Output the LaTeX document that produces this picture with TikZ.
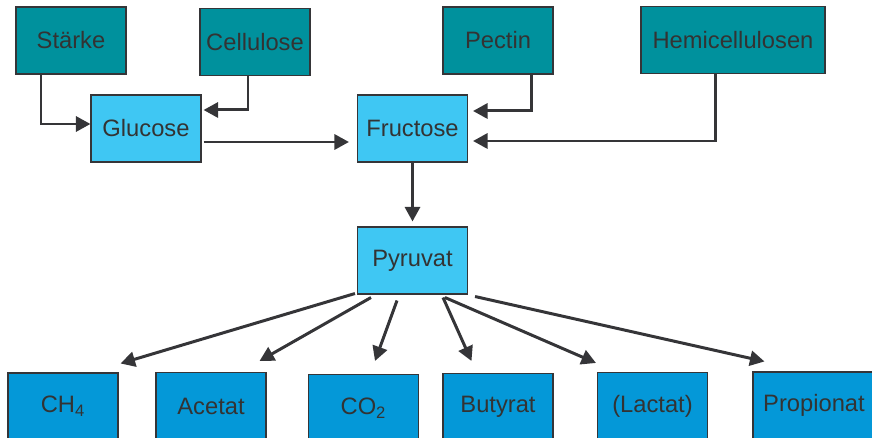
\documentclass[tikz,border=0pt]{standalone}
\usepackage{fontspec}
\setmainfont{Liberation Sans}
\usepackage{tikz}
\usetikzlibrary{arrows.meta}
\usetikzlibrary{calc}
\definecolor{teal0}{HTML}{00919D}
\definecolor{light0}{HTML}{3FC7F3}
\definecolor{blue0}{HTML}{0498D8}
\definecolor{text0}{HTML}{333333}
\definecolor{line0}{HTML}{353538}
\tikzset{
	box/.style={draw=line0, line width=0.6pt, text=text0, minimum width=2.2cm,
		minimum height=1.34cm, inner sep=2pt, font=\fontsize{13.5}{15}\selectfont},
	substrate/.style={box, fill=teal0},
	inter/.style={box, fill=light0},
	product/.style={box, fill=blue0},
}
\tikzstyle{line} = [draw=line0, line width=1.7pt, -{Triangle[length=0.29cm,width=0.3cm]}]

\begin{document}
\begin{tikzpicture}
	\clip (0,0) rectangle (17.44,-8.76);
	% substrates
	\node[substrate] (staerke) at (1.42,-0.81) {Stärke};
	\node[substrate] (cellulose) at (5.10,-0.84) {Cellulose};
	\node[substrate] (pectin) at (9.96,-0.81) {Pectin};
	\node[substrate, minimum width=3.68cm] (hemi) at (14.66,-0.80) {Hemicellulosen};
	% sugars
	\node[inter] (glucose) at (2.92,-2.57) {Glucose};
	\node[inter] (fructose) at (8.25,-2.57) {Fructose};
	\node[inter] (pyruvat) at (8.25,-5.21) {Pyruvat};
	% products
	\node[product] (ch4) at (1.26,-8.13) {CH\textsubscript{4}};
	\node[product] (acetat) at (4.22,-8.12) {Acetat};
	\node[product] (co2) at (7.27,-8.16) {CO\textsubscript{2}};
	\node[product] (butyrat) at (9.96,-8.14) {Butyrat};
	\node[product] (lactat) at (13.05,-8.12) {(Lactat)};
	\node[product, minimum width=2.44cm] (propionat) at (16.28,-8.11) {Propionat};

	\draw[line] ($(staerke.south)+(-0.6,0)$) |- ($(glucose.west)+(0,0.09)$);
	\draw[line] ($(cellulose.south)+(-0.14,0)$) |- ($(glucose.east)+(0.04,0.37)$);
	\draw[line] ($(glucose.east)+(0.04,-0.27)$) -- ($(fructose.west)+(-0.16,-0.27)$);
	\draw[line] ($(pectin.south)+(0.66,0)$) |- ($(fructose.east)+(0.1,0.35)$);
	\draw[line] ($(hemi.south)+(-0.36,0)$) |- ($(fructose.east)+(0.1,-0.25)$);
	\draw[line] (fructose.south) -- ($(pyruvat.north)+(0,0.1)$);

	\draw[line] ($(pyruvat.south west)+(-0.04,0.02)$) -- ($(ch4.north east)+(0.04,0.18)$);
	\draw[line] ($(pyruvat.south west)+(0.28,-0.06)$) -- ($(acetat.north east)+(-0.14,0.22)$);
	\draw[line] ($(pyruvat.south)+(-0.31,-0.12)$) -- ($(co2.north)+(0.23,0.26)$);
	\draw[line] ($(pyruvat.south)+(0.61,-0.06)$) -- ($(butyrat.north west)+(0.58,0.24)$);
	\draw[line] ($(pyruvat.south)+(0.65,-0.06)$) -- ($(lactat.north west)+(-0.02,0.18)$);
	\draw[line] ($(pyruvat.south east)+(0.14,-0.04)$) -- ($(propionat.north west)+(0.24,0.20)$);
\end{tikzpicture}
\end{document}
